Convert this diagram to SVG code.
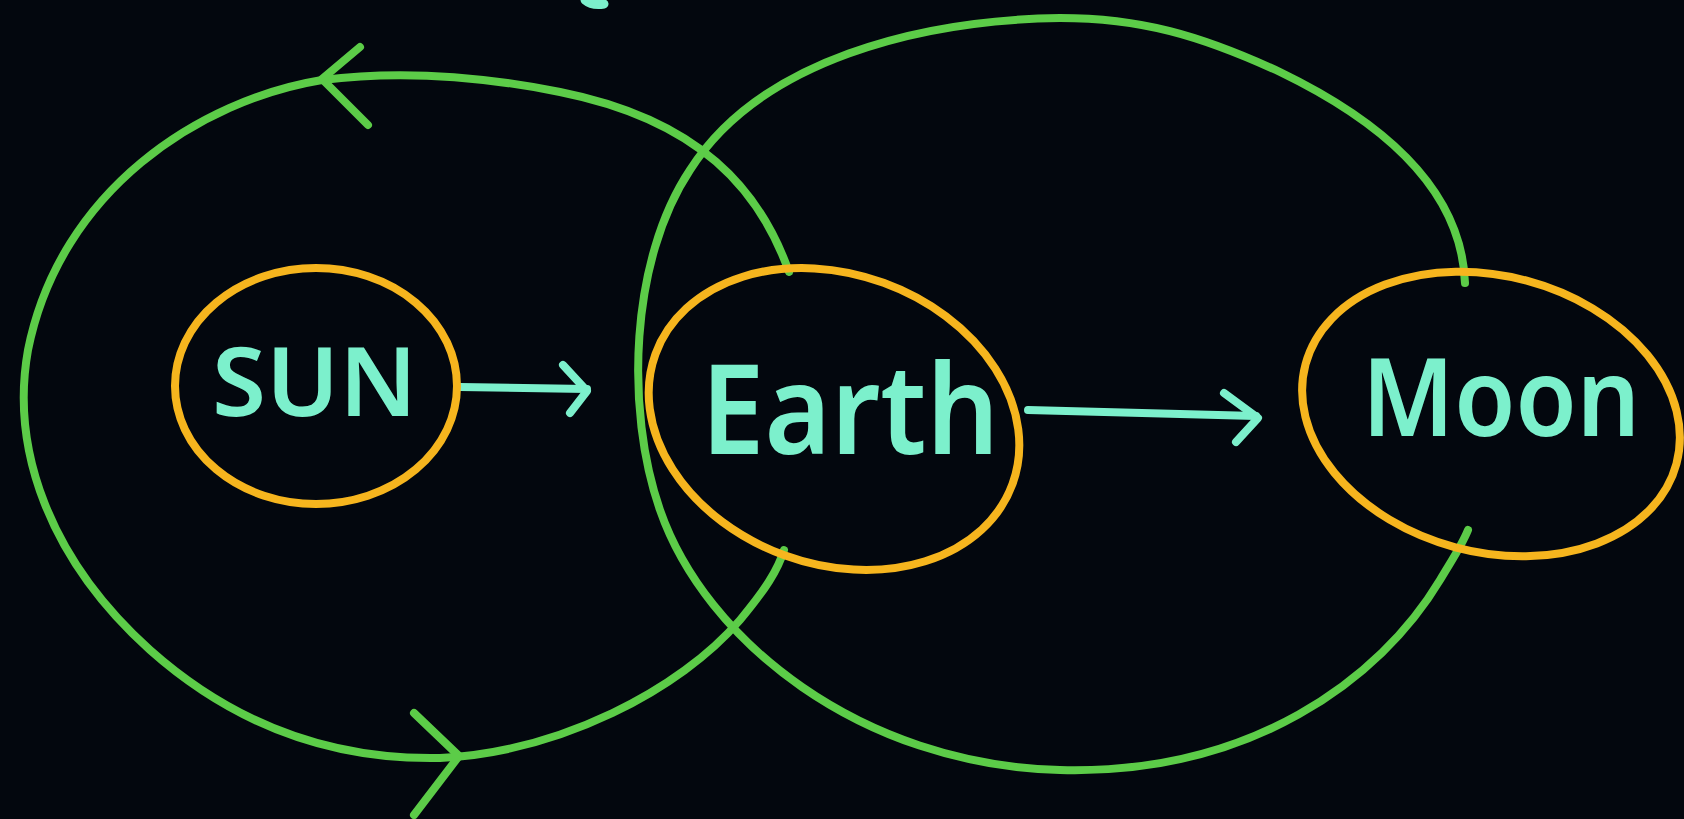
<svg xmlns="http://www.w3.org/2000/svg" width="1684" height="819" viewBox="0 0 1684 819">
<style>
.bg{fill:#03070e}
.orbit{fill:none;stroke:#5ccc48;stroke-width:8;stroke-linecap:round;stroke-linejoin:round}
.ring{fill:none;stroke:#f6b51e;stroke-width:8;stroke-linecap:round}
.arrow{fill:none;stroke:#7cf0cc;stroke-width:8;stroke-linecap:round;stroke-linejoin:round}
.label{fill:#7cf0cc;font-family:"Noto Sans","Open Sans",sans-serif;font-weight:600}
</style>
<rect class="bg" x="0" y="0" width="1684" height="819"/>
<path d="M 585 0 Q 592 6 604 4" fill="none" stroke="#7cf0cc" stroke-width="9" stroke-linecap="round"/>
<g id="connectors">
  <path id="orbit-earth-sun" class="orbit" d="M 789 272 C 760 190, 700 120, 560 92 C 480 76, 400 70, 322 80 C 200 100, 60 190, 28 350 C 10 450, 50 560, 150 650 C 240 730, 340 760, 440 758 C 560 752, 680 690, 740 620 C 765 590, 778 570, 784 550"/>
  <polyline class="orbit" points="360,47 322,79 368,125"/>
  <polyline class="orbit" points="414,713 459,756 414,815"/>
  <path id="orbit-moon-earth" class="orbit" d="M 1465 283 C 1462 200, 1400 130, 1280 72 C 1200 35, 1140 18, 1060 18 C 920 20, 760 60, 690 170 C 630 260, 625 410, 660 510 C 705 640, 860 765, 1060 770 C 1250 775, 1380 680, 1440 580 C 1455 555, 1462 545, 1468 530"/>
  <g id="arrow-sun-earth">
    <line class="arrow" x1="460" y1="387" x2="587" y2="389"/>
    <polyline class="arrow" points="563,365 587,391 570,413"/>
  </g>
  <g id="arrow-earth-moon">
    <line class="arrow" x1="1028" y1="410" x2="1256" y2="416"/>
    <polyline class="arrow" points="1224,393 1258,418 1236,442"/>
  </g>
</g>
<g id="sun">
  <ellipse class="ring" cx="316" cy="386" rx="141" ry="118"/>
  <text class="label" x="212" y="416" font-size="96" textLength="205" lengthAdjust="spacingAndGlyphs">SUN</text>
</g>
<g id="earth">
  <ellipse class="ring" cx="834" cy="419" rx="190" ry="145" transform="rotate(20 834 419)"/>
  <text class="label" x="701" y="454" font-size="124" textLength="298" lengthAdjust="spacingAndGlyphs">Earth</text>
</g>
<g id="moon">
  <ellipse class="ring" cx="1491" cy="414" rx="192" ry="138" transform="rotate(15 1491 414)"/>
  <text class="label" x="1362" y="436" font-size="108" textLength="278" lengthAdjust="spacingAndGlyphs">Moon</text>
</g>
</svg>
